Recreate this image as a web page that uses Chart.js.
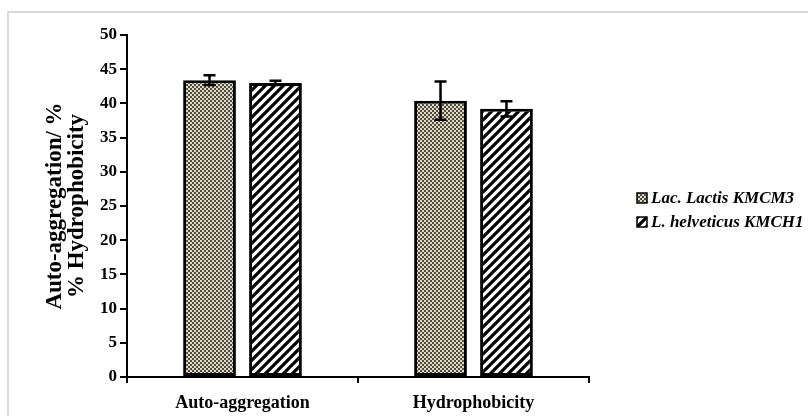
<!DOCTYPE html>
<html>
<head>
<meta charset="utf-8">
<script src="https://cdn.jsdelivr.net/npm/chart.js@4.4.1/dist/chart.umd.min.js"></script>
<style>
  html, body { margin: 0; padding: 0; background: #fff; }
  #wrap { position: relative; width: 808px; height: 416px; }
  #frame { position: absolute; left: 7px; top: 11px; right: -4px; bottom: -4px; border-left: 2px solid #d9d9d9; border-top: 2px solid #d9d9d9; }
  #c { position: absolute; left: 0; top: 0; }
</style>
</head>
<body>
<div id="wrap">
  <div id="frame"></div>
  <canvas id="c" width="808" height="416"></canvas>
</div>
<script>
// values
const categories = ['Auto-aggregation', 'Hydrophobicity'];
const seriesNames = ['Lac. Lactis KMCM3', 'L. helveticus KMCH1'];
const lactisValues = [43.4, 40.4];
const lactisErrors = [0.7, 2.8];
const helveticusValues = [43.0, 39.2];
const helveticusErrors = [0.3, 1.1];
const yTicks = [0, 5, 10, 15, 20, 25, 30, 35, 40, 45, 50];

const serif = "'Liberation Serif', 'DejaVu Serif', serif";

// fill patterns like the office chart
function meshPattern() {
  const t = document.createElement('canvas');
  t.width = 4; t.height = 4;
  const g = t.getContext('2d');
  g.fillStyle = '#514b37';
  g.fillRect(0, 0, 4, 4);
  g.fillStyle = '#dedacb';
  g.fillRect(0, 0, 2, 2);
  g.fillRect(2, 2, 2, 2);
  return g.createPattern(t, 'repeat');
}

function stripePattern() {
  const s = 9;
  const t = document.createElement('canvas');
  t.width = s; t.height = s;
  const g = t.getContext('2d');
  g.fillStyle = '#fff';
  g.fillRect(0, 0, s, s);
  g.strokeStyle = '#000';
  g.lineWidth = 3.2;
  g.beginPath();
  g.moveTo(-s, 2 * s); g.lineTo(2 * s, -s);
  g.moveTo(-s, s); g.lineTo(s, -s);
  g.moveTo(0, 2 * s); g.lineTo(2 * s, 0);
  g.stroke();
  return g.createPattern(t, 'repeat');
}

const fills = [meshPattern(), stripePattern()];
const errors = [lactisErrors, helveticusErrors];

const errorBars = {
  id: 'errorBars',
  afterDatasetsDraw(chart) {
    const ctx = chart.ctx;
    const y = chart.scales.y;
    ctx.save();
    ctx.strokeStyle = '#000';
    ctx.lineWidth = 2.5;
    chart.data.datasets.forEach((ds, i) => {
      chart.getDatasetMeta(i).data.forEach((bar, j) => {
        const v = ds.data[j], e = errors[i][j];
        const top = y.getPixelForValue(v + e);
        const bot = y.getPixelForValue(v - e);
        ctx.beginPath();
        ctx.moveTo(bar.x, top); ctx.lineTo(bar.x, bot);
        ctx.moveTo(bar.x - 6, top); ctx.lineTo(bar.x + 6, top);
        ctx.moveTo(bar.x - 6, bot); ctx.lineTo(bar.x + 6, bot);
        ctx.stroke();
      });
    });
    ctx.restore();
  }
};

// legend on the right, drawn by hand so it can sit apart from the plot
const sideLegend = {
  id: 'sideLegend',
  afterDraw(chart) {
    const ctx = chart.ctx;
    const x0 = chart.chartArea.right + 48;
    const yMid = (chart.chartArea.top + chart.chartArea.bottom) / 2;
    ctx.save();
    ctx.font = "italic bold 17px " + serif;
    ctx.textBaseline = 'middle';
    chart.data.datasets.forEach((ds, i) => {
      const yy = yMid - 8 + i * 24;
      ctx.fillStyle = ds.backgroundColor;
      ctx.fillRect(x0, yy - 5, 10, 10);
      ctx.strokeStyle = '#000';
      ctx.lineWidth = 1.5;
      ctx.strokeRect(x0, yy - 5, 10, 10);
      ctx.fillStyle = '#000';
      ctx.fillText(ds.label, x0 + 14, yy + 1);
    });
    ctx.restore();
  }
};

new Chart(document.getElementById('c'), {
  type: 'bar',
  data: {
    labels: categories,
    datasets: [
      { label: seriesNames[0], data: lactisValues, backgroundColor: fills[0], borderColor: '#000', borderWidth: 3, borderSkipped: false },
      { label: seriesNames[1], data: helveticusValues, backgroundColor: fills[1], borderColor: '#000', borderWidth: 3, borderSkipped: false }
    ]
  },
  options: {
    responsive: false,
    animation: false,
    devicePixelRatio: 1,
    categoryPercentage: 0.571,
    barPercentage: 0.8,
    layout: { padding: { left: 0, right: 219, top: 35, bottom: 0 } },
    plugins: { legend: { display: false }, tooltip: { enabled: false } },
    scales: {
      x: {
        grid: { display: true, drawOnChartArea: false, drawTicks: true, tickLength: 6, color: '#000', lineWidth: 2, offset: true },
        border: { color: '#000', width: 2 },
        ticks: { font: { family: serif, size: 18, weight: 'bold' }, color: '#000', padding: 10 },
        afterFit: (s) => { s.height = 39; }
      },
      y: {
        min: 0, max: 50,
        afterBuildTicks: (s) => { s.ticks = yTicks.map(v => ({ value: v })); },
        grid: { display: true, drawOnChartArea: false, drawTicks: true, tickLength: 7, color: '#000', lineWidth: 2 },
        border: { color: '#000', width: 2 },
        ticks: { font: { family: serif, size: 17, weight: 'bold' }, color: '#000', padding: 3 },
        title: {
          display: true,
          text: ['Auto-aggregation/ %', '% Hydrophobicity'],
          font: { family: serif, size: 23, weight: 'bold', lineHeight: 0.95 },
          color: '#000',
          padding: { top: 44, bottom: 0 }
        },
        afterFit: (s) => { s.width = 127; }
      }
    }
  },
  plugins: [errorBars, sideLegend]
});
</script>
</body>
</html>
